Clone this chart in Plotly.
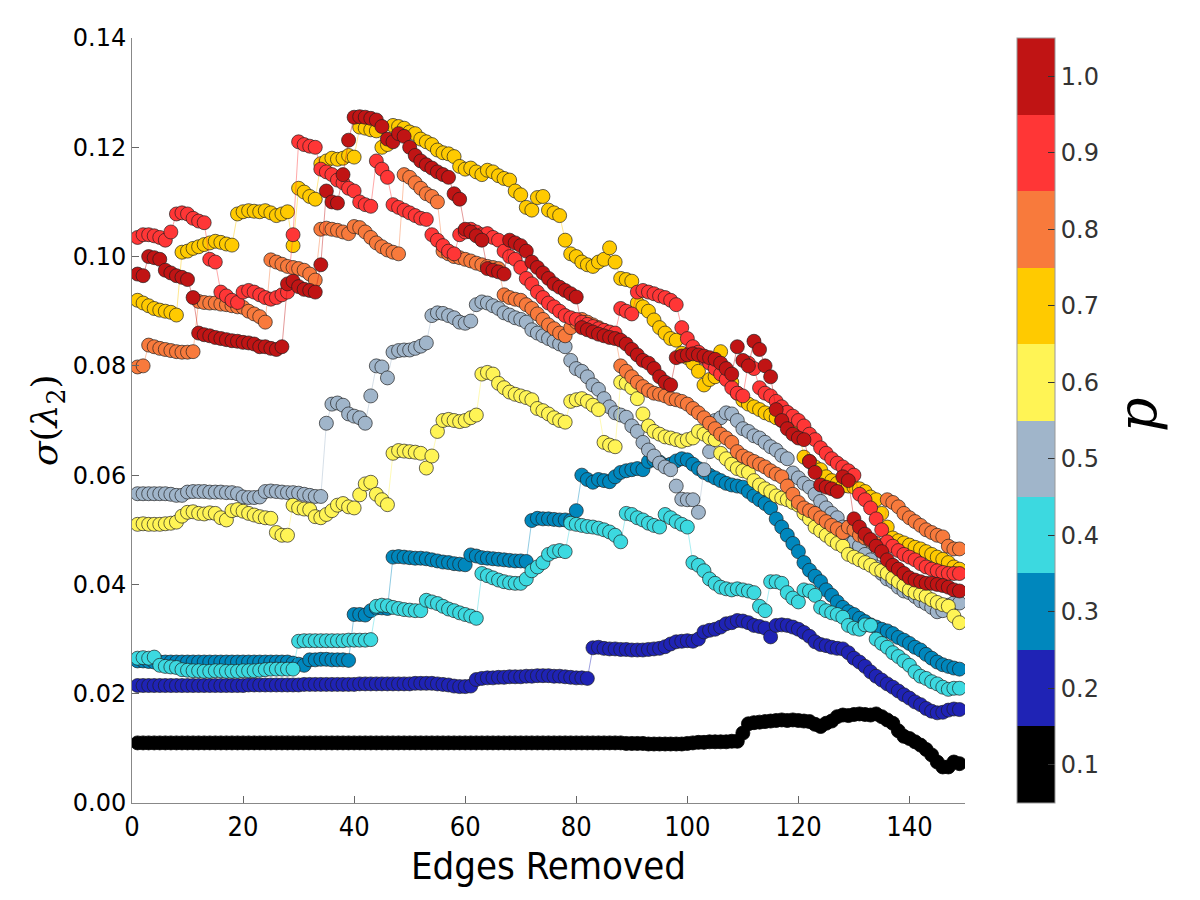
import plotly.graph_objects as go

edges = list(range(1, 150))
p_values = [0.1, 0.2, 0.3, 0.4, 0.5, 0.6, 0.7, 0.8, 0.9, 1.0]
p_colors = ["#000000", "#1f23b5", "#0087bd", "#3cd9e0", "#a0b5ca",
            "#fff455", "#ffca00", "#f87a3c", "#ff3636", "#c01414"]

s_01 = [0.0110]*80 + [0.0110]*8 + [0.0109, 0.0109] + \
    [0.0109, 0.0109, 0.0108, 0.0108, 0.0108, 0.0108, 0.0108, 0.0108, 0.0108, 0.0109,
     0.0110, 0.0111, 0.0111, 0.0112, 0.0112, 0.0112, 0.0112, 0.0113, 0.0113, 0.0128,
     0.0145, 0.0147, 0.0148, 0.0149, 0.0150, 0.0151, 0.0152, 0.0151, 0.0152, 0.0151,
     0.0150, 0.0149, 0.0144, 0.0140, 0.0146, 0.0150, 0.0158, 0.0161, 0.0160, 0.0162,
     0.0163, 0.0162, 0.0161, 0.0163, 0.0158, 0.0152, 0.0146, 0.0132, 0.0122, 0.0118,
     0.0112, 0.0106, 0.0098, 0.0088, 0.0075, 0.0066, 0.0066, 0.0075, 0.0072]

s_02 = [0.0215]*20 + [0.0216]*10 + [0.0217]*10 + [0.0218]*10 + \
    [0.0219, 0.0219, 0.0219, 0.0219, 0.0218, 0.0217, 0.0216, 0.0214, 0.0213, 0.0213,
     0.0214, 0.0226, 0.0228, 0.0229, 0.0229, 0.0230, 0.0230, 0.0231, 0.0231, 0.0231,
     0.0232, 0.0232, 0.0233, 0.0233, 0.0233, 0.0232, 0.0232, 0.0231, 0.0230, 0.0229,
     0.0229, 0.0228, 0.0284, 0.0285, 0.0283, 0.0282, 0.0282, 0.0281, 0.0281, 0.0280,
     0.0280, 0.0280, 0.0281, 0.0282, 0.0283, 0.0286, 0.0291, 0.0295, 0.0296, 0.0297,
     0.0296, 0.0300, 0.0313, 0.0316, 0.0318, 0.0322, 0.0328, 0.0330, 0.0334, 0.0333,
     0.0330, 0.0325, 0.0323, 0.0320, 0.0304, 0.0325, 0.0326, 0.0325, 0.0322, 0.0318,
     0.0312, 0.0305, 0.0295, 0.0290, 0.0288, 0.0285, 0.0283, 0.0282, 0.0275, 0.0265,
     0.0258, 0.0250, 0.0240, 0.0232, 0.0225, 0.0218, 0.0212, 0.0205, 0.0198, 0.0192,
     0.0185, 0.0180, 0.0173, 0.0168, 0.0165, 0.0166, 0.0170, 0.0172, 0.0171]

s_03 = [0.0260, 0.0260, 0.0259] + [0.0258]*25 + \
    [0.0256, 0.0254,
     0.0252, 0.0262, 0.0262, 0.0263, 0.0263, 0.0262, 0.0262, 0.0262, 0.0261, 0.0345,
     0.0345, 0.0344, 0.0352, 0.0357, 0.0357, 0.0356, 0.0450, 0.0451, 0.0450, 0.0449,
     0.0448, 0.0448, 0.0447, 0.0445, 0.0443, 0.0441, 0.0440, 0.0438, 0.0437, 0.0436,
     0.0454, 0.0452, 0.0449, 0.0448, 0.0447, 0.0446, 0.0445, 0.0444, 0.0443, 0.0443,
     0.0442, 0.0517, 0.0521, 0.0520, 0.0520, 0.0519, 0.0518, 0.0518, 0.0517, 0.0535,
     0.0600, 0.0592, 0.0587, 0.0592, 0.0590, 0.0588, 0.0597, 0.0605, 0.0608, 0.0610,
     0.0612, 0.0610, 0.0625, 0.0628, 0.0624, 0.0618, 0.0620, 0.0626, 0.0630, 0.0628,
     0.0620, 0.0612, 0.0605, 0.0600, 0.0595, 0.0590, 0.0585, 0.0582, 0.0580, 0.0578,
     0.0570, 0.0562, 0.0555, 0.0548, 0.0540, 0.0520, 0.0505, 0.0490, 0.0475, 0.0460,
     0.0440, 0.0426, 0.0415, 0.0405, 0.0390, 0.0380, 0.0368, 0.0358, 0.0350, 0.0345,
     0.0338, 0.0332, 0.0326, 0.0322, 0.0318, 0.0315, 0.0310, 0.0303, 0.0298, 0.0292,
     0.0285, 0.0280, 0.0272, 0.0265, 0.0258, 0.0253, 0.0250, 0.0247, 0.0245]

s_04 = [0.0265, 0.0266, 0.0265, 0.0267, 0.0252, 0.0250, 0.0249, 0.0248, 0.0244, 0.0243,
        0.0242, 0.0242, 0.0241, 0.0241, 0.0242, 0.0242, 0.0241, 0.0241, 0.0241, 0.0242,
        0.0242, 0.0242, 0.0243, 0.0244, 0.0245, 0.0245, 0.0245, 0.0245, 0.0245, 0.0296,
        0.0297, 0.0297, 0.0297, 0.0297, 0.0297, 0.0297, 0.0297, 0.0297, 0.0298, 0.0298,
        0.0298, 0.0298, 0.0299, 0.0360, 0.0362, 0.0361, 0.0358, 0.0356, 0.0354, 0.0353,
        0.0352, 0.0352, 0.0371, 0.0368, 0.0365, 0.0360, 0.0355, 0.0352, 0.0348, 0.0345,
        0.0342, 0.0338, 0.0420, 0.0416, 0.0412, 0.0408, 0.0405, 0.0403, 0.0402, 0.0402,
        0.0410, 0.0425, 0.0432, 0.0440, 0.0455, 0.0460, 0.0462, 0.0460, 0.0512, 0.0510,
        0.0508, 0.0506, 0.0505, 0.0503, 0.0500, 0.0496, 0.0490, 0.0478, 0.0530, 0.0528,
        0.0522, 0.0518, 0.0512, 0.0508, 0.0505, 0.0528, 0.0522, 0.0515, 0.0510, 0.0505,
        0.0440, 0.0435, 0.0425, 0.0410, 0.0402, 0.0395, 0.0392, 0.0390, 0.0392, 0.0390,
        0.0388, 0.0385, 0.0360, 0.0352, 0.0405, 0.0405, 0.0402, 0.0385, 0.0375, 0.0368,
        0.0390, 0.0388, 0.0380, 0.0358, 0.0352, 0.0348, 0.0345, 0.0340, 0.0325, 0.0320,
        0.0318, 0.0326, 0.0325, 0.0300, 0.0292, 0.0285, 0.0275, 0.0268, 0.0260, 0.0252,
        0.0240, 0.0232, 0.0228, 0.0222, 0.0218, 0.0212, 0.0208, 0.0210, 0.0210]

s_05 = [0.0566, 0.0566, 0.0566, 0.0566, 0.0566, 0.0566, 0.0565, 0.0563, 0.0563, 0.0569,
        0.0570, 0.0570, 0.0570, 0.0569, 0.0569, 0.0569, 0.0568, 0.0568, 0.0566, 0.0560,
        0.0559, 0.0559, 0.0560, 0.0570, 0.0571, 0.0570, 0.0569, 0.0568, 0.0568, 0.0567,
        0.0565, 0.0563, 0.0561, 0.0561, 0.0695, 0.0730, 0.0732, 0.0728, 0.0712, 0.0708,
        0.0705, 0.0695, 0.0745, 0.0800, 0.0798, 0.0778, 0.0825, 0.0828, 0.0829, 0.0829,
        0.0832, 0.0836, 0.0842, 0.0892, 0.0897, 0.0896, 0.0892, 0.0888, 0.0880, 0.0878,
        0.0882, 0.0912, 0.0917, 0.0915, 0.0910, 0.0905, 0.0897, 0.0893, 0.0888, 0.0885,
        0.0880, 0.0866, 0.0860, 0.0855, 0.0850, 0.0845, 0.0840, 0.0835, 0.0810, 0.0795,
        0.0790, 0.0780, 0.0765, 0.0757, 0.0740, 0.0725, 0.0714, 0.0710, 0.0706, 0.0690,
        0.0680, 0.0660, 0.0646, 0.0635, 0.0622, 0.0615, 0.0610, 0.0580, 0.0556, 0.0555,
        0.0555, 0.0532, 0.0610, 0.0643, 0.0700, 0.0705, 0.0714, 0.0712, 0.0700, 0.0685,
        0.0680, 0.0672, 0.0668, 0.0660, 0.0652, 0.0646, 0.0636, 0.0630, 0.0604, 0.0595,
        0.0585, 0.0578, 0.0565, 0.0552, 0.0540, 0.0530, 0.0522, 0.0505, 0.0490, 0.0478,
        0.0470, 0.0455, 0.0445, 0.0432, 0.0420, 0.0410, 0.0405, 0.0395, 0.0388, 0.0385,
        0.0378, 0.0370, 0.0365, 0.0358, 0.0350, 0.0352, 0.0362, 0.0366, 0.0366]

s_06 = [0.0510, 0.0511, 0.0510, 0.0510, 0.0510, 0.0511, 0.0512, 0.0514, 0.0525, 0.0532,
        0.0533, 0.0530, 0.0529, 0.0531, 0.0530, 0.0522, 0.0518, 0.0535, 0.0537, 0.0534,
        0.0530, 0.0527, 0.0524, 0.0522, 0.0521, 0.0495, 0.0490, 0.0490, 0.0545, 0.0540,
        0.0538, 0.0537, 0.0524, 0.0522, 0.0528, 0.0535, 0.0545, 0.0548, 0.0542, 0.0540,
        0.0564, 0.0584, 0.0587, 0.0565, 0.0555, 0.0546, 0.0640, 0.0645, 0.0644, 0.0643,
        0.0642, 0.0640, 0.0613, 0.0635, 0.0680, 0.0700, 0.0702, 0.0700, 0.0698, 0.0700,
        0.0705, 0.0710, 0.0785, 0.0788, 0.0785, 0.0768, 0.0760, 0.0752, 0.0748, 0.0745,
        0.0742, 0.0738, 0.0722, 0.0718, 0.0712, 0.0705, 0.0700, 0.0697, 0.0735, 0.0738,
        0.0740, 0.0735, 0.0728, 0.0720, 0.0660, 0.0655, 0.0652, 0.0770, 0.0768, 0.0760,
        0.0740, 0.0712, 0.0690, 0.0680, 0.0675, 0.0670, 0.0668, 0.0665, 0.0662, 0.0665,
        0.0668, 0.0680, 0.0675, 0.0668, 0.0665, 0.0640, 0.0630, 0.0620, 0.0612, 0.0608,
        0.0605, 0.0590, 0.0582, 0.0575, 0.0570, 0.0562, 0.0558, 0.0555, 0.0550, 0.0545,
        0.0530, 0.0520, 0.0505, 0.0498, 0.0490, 0.0482, 0.0475, 0.0470, 0.0455, 0.0450,
        0.0445, 0.0440, 0.0435, 0.0428, 0.0425, 0.0420, 0.0412, 0.0405, 0.0398, 0.0390,
        0.0385, 0.0382, 0.0378, 0.0372, 0.0367, 0.0363, 0.0360, 0.0342, 0.0330]

s_07 = [0.0920, 0.0915, 0.0910, 0.0905, 0.0902, 0.0900, 0.0898, 0.0893, 0.1008, 0.1010,
        0.1015, 0.1018, 0.1022, 0.1025, 0.1028, 0.1026, 0.1023, 0.1021, 0.1078, 0.1082,
        0.1084, 0.1083, 0.1082, 0.1084, 0.1080, 0.1075, 0.1078, 0.1082, 0.1020, 0.1125,
        0.1118, 0.1110, 0.1105, 0.1170, 0.1175, 0.1180, 0.1178, 0.1180, 0.1185, 0.1182,
        0.1237, 0.1235, 0.1232, 0.1230, 0.1200, 0.1205, 0.1240, 0.1238, 0.1235, 0.1228,
        0.1225, 0.1215, 0.1210, 0.1205, 0.1195, 0.1190, 0.1188, 0.1183, 0.1165, 0.1160,
        0.1162, 0.1155, 0.1150, 0.1158, 0.1155, 0.1148, 0.1143, 0.1140, 0.1120, 0.1113,
        0.1090, 0.1085, 0.1108, 0.1110, 0.1085, 0.1080, 0.1075, 0.1030, 0.1005, 0.1000,
        0.0990, 0.0985, 0.0982, 0.0990, 0.0995, 0.1016, 0.0990, 0.0960, 0.0958, 0.0955,
        0.0915, 0.0908, 0.0900, 0.0884, 0.0870, 0.0860, 0.0850, 0.0847, 0.0823, 0.0815,
        0.0805, 0.0790, 0.0765, 0.0775, 0.0780, 0.0826, 0.0780, 0.0770, 0.0750, 0.0737,
        0.0730, 0.0725, 0.0720, 0.0714, 0.0710, 0.0705, 0.0700, 0.0695, 0.0690, 0.0688,
        0.0633, 0.0625, 0.0615, 0.0610, 0.0597, 0.0590, 0.0585, 0.0580, 0.0580, 0.0578,
        0.0575, 0.0570, 0.0560, 0.0555, 0.0530, 0.0505, 0.0485, 0.0480, 0.0476, 0.0472,
        0.0468, 0.0465, 0.0460, 0.0455, 0.0450, 0.0446, 0.0440, 0.0432, 0.0428]

s_08 = [0.0798, 0.0800, 0.0838, 0.0835, 0.0832, 0.0830, 0.0828, 0.0826, 0.0825, 0.0825,
        0.0826, 0.0918, 0.0916, 0.0915, 0.0915, 0.0913, 0.0912, 0.0910, 0.0908, 0.0907,
        0.0900, 0.0895, 0.0890, 0.0880, 0.0994, 0.0990, 0.0986, 0.0982, 0.0980, 0.0978,
        0.0975, 0.0968, 0.0957, 0.1050, 0.1052, 0.1050, 0.1048, 0.1045, 0.1042, 0.1055,
        0.1053, 0.1045, 0.1035, 0.1025, 0.1018, 0.1012, 0.1008, 0.1005, 0.1150, 0.1145,
        0.1135, 0.1125, 0.1115, 0.1110, 0.1100, 0.1010, 0.1005, 0.1000, 0.0998, 0.0995,
        0.0992, 0.0988, 0.0985, 0.0982, 0.0980, 0.0978, 0.0930, 0.0925, 0.0922, 0.0920,
        0.0912, 0.0905, 0.0895, 0.0885, 0.0875, 0.0868, 0.0860, 0.0855, 0.0870, 0.0880,
        0.0885, 0.0880, 0.0875, 0.0870, 0.0865, 0.0860, 0.0855, 0.0800, 0.0790, 0.0780,
        0.0770, 0.0762, 0.0755, 0.0750, 0.0748, 0.0745, 0.0740, 0.0738, 0.0735, 0.0730,
        0.0722, 0.0714, 0.0705, 0.0695, 0.0685, 0.0675, 0.0668, 0.0660, 0.0643, 0.0635,
        0.0630, 0.0625, 0.0620, 0.0615, 0.0608, 0.0602, 0.0597, 0.0580, 0.0565, 0.0550,
        0.0540, 0.0535, 0.0530, 0.0522, 0.0515, 0.0508, 0.0502, 0.0495, 0.0505, 0.0500,
        0.0490, 0.0485, 0.0480, 0.0475, 0.0470, 0.0555, 0.0550, 0.0542, 0.0530, 0.0522,
        0.0515, 0.0508, 0.0500, 0.0495, 0.0490, 0.0487, 0.0470, 0.0465, 0.0465]

s_09 = [0.1035, 0.1040, 0.1040, 0.1038, 0.1035, 0.1030, 0.1045, 0.1078, 0.1080, 0.1078,
        0.1070, 0.1065, 0.1062, 0.0995, 0.0990, 0.0935, 0.0928, 0.0920, 0.0916, 0.0935,
        0.0938, 0.0935, 0.0930, 0.0925, 0.0922, 0.0925, 0.0930, 0.0935, 0.1040, 0.1210,
        0.1205, 0.1202, 0.1200, 0.1160, 0.1155, 0.1150, 0.1140, 0.1135, 0.1125, 0.1120,
        0.1100, 0.1095, 0.1092, 0.1175, 0.1160, 0.1145, 0.1095, 0.1090, 0.1085, 0.1080,
        0.1075, 0.1070, 0.1068, 0.1040, 0.1030, 0.1020, 0.1010, 0.1005, 0.1040, 0.1045,
        0.1050, 0.1045, 0.1040, 0.1042, 0.1035, 0.1030, 0.1010, 0.1000, 0.0995, 0.0980,
        0.0960, 0.0950, 0.0935, 0.0925, 0.0915, 0.0908, 0.0900, 0.0892, 0.0888, 0.0885,
        0.0880, 0.0876, 0.0872, 0.0868, 0.0865, 0.0862, 0.0860, 0.0905, 0.0900, 0.0895,
        0.0935, 0.0938, 0.0935, 0.0932, 0.0928, 0.0925, 0.0920, 0.0912, 0.0870, 0.0850,
        0.0835, 0.0825, 0.0815, 0.0805, 0.0795, 0.0785, 0.0775, 0.0760, 0.0750, 0.0745,
        0.0805, 0.0795, 0.0760, 0.0750, 0.0745, 0.0735, 0.0725, 0.0715, 0.0708, 0.0700,
        0.0690, 0.0675, 0.0665, 0.0650, 0.0640, 0.0630, 0.0622, 0.0615, 0.0608, 0.0600,
        0.0565, 0.0555, 0.0540, 0.0520, 0.0500, 0.0478, 0.0470, 0.0462, 0.0455, 0.0450,
        0.0445, 0.0438, 0.0432, 0.0428, 0.0425, 0.0422, 0.0420, 0.0420, 0.0420]

s_10 = [0.0968, 0.0965, 0.1000, 0.0998, 0.0995, 0.0975, 0.0970, 0.0965, 0.0962, 0.0958,
        0.0925, 0.0860, 0.0857, 0.0855, 0.0852, 0.0850, 0.0848, 0.0846, 0.0845, 0.0843,
        0.0842, 0.0840, 0.0835, 0.0835, 0.0832, 0.0830, 0.0835, 0.0950, 0.0955, 0.0945,
        0.0940, 0.0938, 0.0935, 0.0985, 0.1120, 0.1100, 0.1098, 0.1150, 0.1213, 0.1255,
        0.1256, 0.1255, 0.1253, 0.1250, 0.1238, 0.1215, 0.1210, 0.1225, 0.1220, 0.1200,
        0.1185, 0.1175, 0.1168, 0.1162, 0.1155, 0.1150, 0.1145, 0.1115, 0.1105, 0.1050,
        0.1045, 0.1038, 0.1030, 0.0978, 0.0975, 0.0972, 0.0968, 0.1030, 0.1025, 0.1020,
        0.1010, 0.0990, 0.0980, 0.0970, 0.0960, 0.0950, 0.0944, 0.0938, 0.0932, 0.0926,
        0.0870, 0.0866, 0.0862, 0.0858, 0.0855, 0.0852, 0.0850, 0.0847, 0.0840, 0.0830,
        0.0820, 0.0810, 0.0805, 0.0795, 0.0780, 0.0770, 0.0765, 0.0815, 0.0818, 0.0820,
        0.0822, 0.0820, 0.0818, 0.0815, 0.0812, 0.0805, 0.0795, 0.0785, 0.0835, 0.0810,
        0.0800, 0.0845, 0.0830, 0.0800, 0.0780, 0.0720, 0.0700, 0.0685, 0.0675, 0.0668,
        0.0665, 0.0625, 0.0605, 0.0582, 0.0578, 0.0575, 0.0570, 0.0597, 0.0590, 0.0520,
        0.0505, 0.0492, 0.0482, 0.0470, 0.0460, 0.0445, 0.0435, 0.0428, 0.0420, 0.0412,
        0.0408, 0.0405, 0.0402, 0.0402, 0.0400, 0.0398, 0.0395, 0.0390, 0.0388]

series = [s_01, s_02, s_03, s_04, s_05, s_06, s_07, s_08, s_09, s_10]
cbar_ticks = ["0.1", "0.2", "0.3", "0.4", "0.5", "0.6", "0.7", "0.8", "0.9", "1.0"]

COND = "DejaVu Sans Condensed, Liberation Sans Narrow, Roboto, sans-serif"


def rgba(hexc, a):
    h = hexc.lstrip("#")
    return "rgba(%d,%d,%d,%.2f)" % (int(h[0:2], 16), int(h[2:4], 16), int(h[4:6], 16), a)


fig = go.Figure()
for p, col, ys in zip(p_values, p_colors, series):
    fig.add_trace(go.Scatter(
        x=edges[:len(ys)], y=ys, mode="lines+markers",
        line=dict(color=rgba(col, 0.55), width=0.8),
        marker=dict(size=14, color=col,
                    line=dict(color="rgba(30,30,30,0.85)" if p > 0.1 else "#000000", width=0.8)),
        showlegend=False, name="p=%.1f" % p))

scale = []
for i, c in enumerate(p_colors):
    scale.append([i / 10, c])
    scale.append([(i + 1) / 10, c])

fig.add_trace(go.Scatter(
    x=[-50], y=[-1], mode="markers", showlegend=False, hoverinfo="skip",
    marker=dict(size=1, color=[0.5], cmin=0.05, cmax=1.05, colorscale=scale,
                showscale=True,
                colorbar=dict(x=(1017 - 132) / 833, xanchor="left", xpad=0,
                              y=0.5, yanchor="middle", len=1, lenmode="fraction", ypad=0,
                              thickness=38, outlinewidth=1, outlinecolor="#999999",
                              tickmode="array", tickvals=p_values, ticktext=cbar_ticks,
                              ticks="inside", ticklen=7, tickcolor="#333333",
                              tickfont=dict(family="DejaVu Sans", size=24, color="#333333")))))

fig.update_layout(
    width=1200, height=900,
    margin=dict(l=132, r=235, t=38, b=97),
    paper_bgcolor="white", plot_bgcolor="white",
    xaxis=dict(range=[0, 150], tickvals=[0, 20, 40, 60, 80, 100, 120, 140],
               ticks="inside", ticklen=7, tickcolor="#666666",
               showline=True, linecolor="#888888", linewidth=1,
               showgrid=False, zeroline=False,
               tickfont=dict(family=COND, size=27, color="#000000")),
    yaxis=dict(range=[0, 0.14], dtick=0.02, tickformat=".2f",
               ticks="inside", ticklen=7, tickcolor="#666666",
               showline=True, linecolor="#888888", linewidth=1,
               showgrid=False, zeroline=False,
               tickfont=dict(family="DejaVu Sans", size=24, color="#000000")),
    annotations=[
        dict(text="Edges Removed", xref="paper", yref="paper", x=0.5, y=(803 - 866) / 765,
             xanchor="center", yanchor="middle", showarrow=False,
             font=dict(family=COND, size=38, color="#000000")),
        dict(text="<i>σ</i>(<i>λ</i><sub>2</sub>)", xref="paper", yref="paper",
             x=(47 - 132) / 833, y=(803 - 420) / 765, xanchor="center", yanchor="middle",
             textangle=-90, showarrow=False,
             font=dict(family="DejaVu Serif", size=36, color="#000000")),
        dict(text="<i>p</i>", xref="paper", yref="paper",
             x=(1137 - 132) / 833, y=(803 - 415) / 765, xanchor="center", yanchor="middle",
             textangle=-90, showarrow=False,
             font=dict(family="DejaVu Serif", size=54, color="#000000")),
    ],
)

fig.write_html("out.html")
